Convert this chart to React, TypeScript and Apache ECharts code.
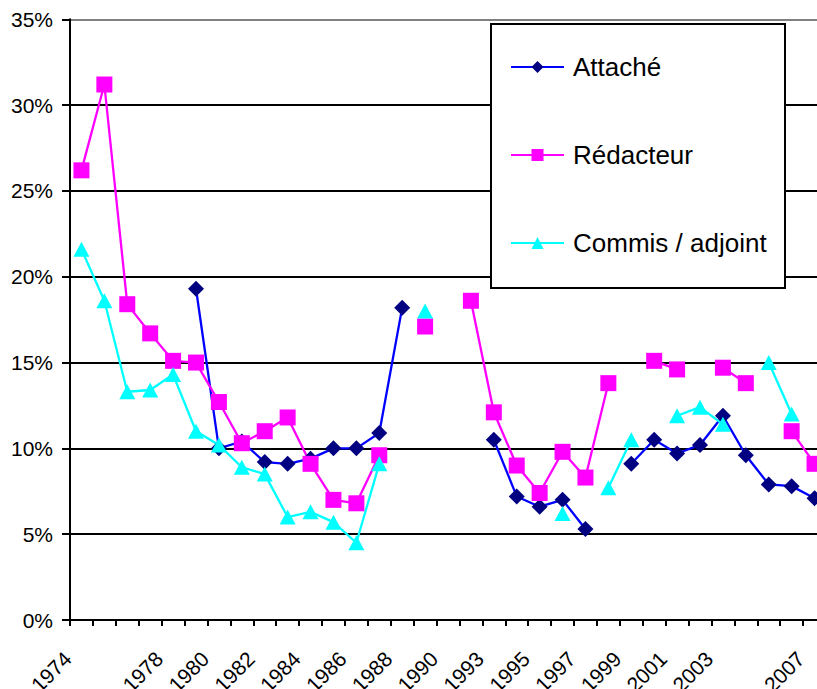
import React, { useEffect, useRef } from 'react';
import * as echarts from 'echarts';

const years = [
  '1974', '1975', '1976', '1977', '1978', '1979', '1980', '1981', '1982', '1983',
  '1984', '1985', '1986', '1987', '1988', '1989', '1990', '1992', '1993', '1994',
  '1995', '1996', '1997', '1998', '1999', '2000', '2001', '2002', '2003', '2004',
  '2005', '2006', '2007',
];

const attache = [
  null, null, null, null, null, 19.3, 10.0, 10.4, 9.2, 9.1,
  9.4, 10.0, 10.0, 10.9, 18.2, null, null, null, 10.5, 7.2,
  6.6, 7.0, 5.3, null, 9.1, 10.5, 9.7, 10.2, 11.9, 9.6,
  7.9, 7.8, 7.1,
];

const redacteur = [
  26.2, 31.2, 18.4, 16.7, 15.1, 15.0, 12.7, 10.3, 11.0, 11.8,
  9.1, 7.0, 6.8, 9.6, null, 17.1, null, 18.6, 12.1, 9.0,
  7.4, 9.8, 8.3, 13.8, null, 15.1, 14.6, null, 14.7, 13.8,
  null, 11.0, 9.1,
];

const commis = [
  21.6, 18.6, 13.3, 13.4, 14.3, 11.0, 10.2, 8.9, 8.5, 6.0,
  6.3, 5.7, 4.5, 9.1, null, 18.0, null, null, null, null,
  null, 6.2, null, 7.7, 10.5, null, 11.9, 12.4, 11.4, null,
  15.0, 12.0, null,
];

const seriesNames = ['Attaché', 'Rédacteur', 'Commis / adjoint'];

const FONT = '"Liberation Sans", Arial, sans-serif';

export default function App() {
  const ref = useRef<HTMLDivElement>(null);
  useEffect(() => {
    if (!ref.current) return;
    const chart = echarts.init(ref.current, undefined, { renderer: 'svg' });
    chart.setOption({
      animation: false,
      backgroundColor: '#ffffff',
      textStyle: { fontFamily: FONT },
      grid: {
        left: 70,
        top: 19.3,
        width: 756,
        height: 600.7,
        containLabel: false,
        outerBoundsMode: 'none',
      },
      xAxis: {
        type: 'category',
        data: years,
        boundaryGap: true,
        axisLine: { lineStyle: { color: '#000', width: 2 } },
        axisTick: { show: true, interval: 0, length: 6, inside: false, lineStyle: { color: '#000', width: 2 } },
        axisLabel: {
          interval: 1,
          rotate: 45,
          margin: 49,
          align: 'right',
          verticalAlign: 'bottom',
          lineHeight: 39,
          showMinLabel: true,
          showMaxLabel: true,
          hideOverlap: false,
          color: '#000',
          fontSize: 21,
          fontFamily: FONT,
        },
        splitLine: { show: false },
      },
      yAxis: {
        type: 'value',
        min: 0,
        max: 35,
        interval: 5,
        axisLine: { show: true, lineStyle: { color: '#000', width: 2 } },
        axisTick: { show: true, length: 8, inside: false, lineStyle: { color: '#000', width: 2 } },
        axisLabel: {
          formatter: '{value}%',
          margin: 17,
          color: '#000',
          fontSize: 21,
          fontFamily: FONT,
        },
        splitLine: {
          show: true,
          lineStyle: {
            color: ['#000', '#000', '#000', '#000', '#000', '#000', '#000', '#808080'],
            width: 2,
          },
        },
      },
      legend: {
        orient: 'vertical',
        left: 510,
        top: 52,
        padding: 0,
        itemWidth: 53,
        itemHeight: 15,
        itemGap: 58,
        selectedMode: false,
        data: seriesNames,
        textStyle: {
          fontSize: 26,
          lineHeight: 30,
          color: '#000',
          fontFamily: FONT,
          padding: [0, 0, 0, 4],
        },
        z: 10,
      },
      graphic: [
        {
          type: 'rect',
          z: 5,
          shape: { x: 491, y: 24, width: 294, height: 264 },
          style: { fill: '#fff', stroke: '#000', lineWidth: 2 },
        },
      ],
      series: [
        {
          name: seriesNames[0],
          type: 'line',
          data: attache,
          symbol: 'diamond',
          symbolSize: 16,
          showAllSymbol: true,
          connectNulls: false,
          lineStyle: { color: '#0000FF', width: 2.3 },
          itemStyle: { color: '#000080' },
        },
        {
          name: seriesNames[1],
          type: 'line',
          data: redacteur,
          symbol: 'rect',
          symbolSize: 16,
          showAllSymbol: true,
          connectNulls: false,
          lineStyle: { color: '#FF00FF', width: 2.3 },
          itemStyle: { color: '#FF00FF' },
        },
        {
          name: seriesNames[2],
          type: 'line',
          data: commis,
          symbol: 'triangle',
          symbolSize: [16, 15],
          showAllSymbol: true,
          connectNulls: false,
          lineStyle: { color: '#00FFFF', width: 2.3 },
          itemStyle: { color: '#00FFFF' },
        },
      ],
    });
    return () => chart.dispose();
  }, []);
  return (
    <div
      ref={ref}
      style={{ position: 'fixed', left: 0, top: 0, width: 817, height: 689, background: '#fff' }}
    />
  );
}
